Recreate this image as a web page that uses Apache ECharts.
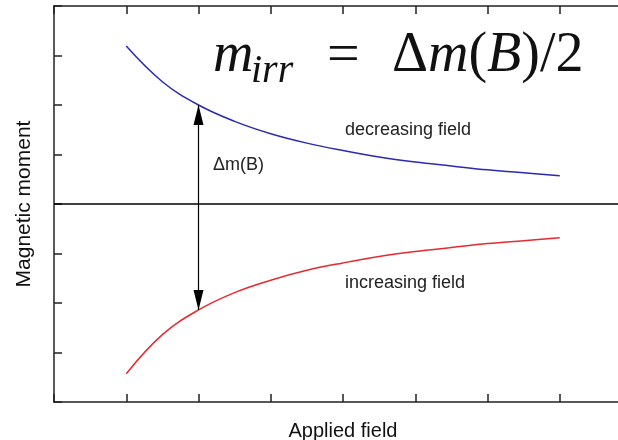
<!DOCTYPE html>
<html><head><meta charset="utf-8">
<script src="https://cdn.jsdelivr.net/npm/echarts@6/dist/echarts.min.js"></script>
<style>html,body{margin:0;padding:0;background:#fff}#c{width:618px;height:440px}</style>
</head><body><div id="c"></div>
<script>
// Applied field (arbitrary units)
const fieldValues = [1, 1.5, 2, 2.5, 3, 3.5, 4, 4.5, 5, 5.5, 6, 6.5, 7];
// Magnetic moment, decreasing-field branch (blue)
const decreasingMoment = [3.19, 2.47, 2.00, 1.67, 1.42, 1.23, 1.08, 0.95, 0.85, 0.77, 0.69, 0.63, 0.57];
// Magnetic moment, increasing-field branch (red)
const increasingMoment = [-3.43, -2.64, -2.14, -1.79, -1.54, -1.34, -1.19, -1.06, -0.96, -0.88, -0.80, -0.74, -0.68];
// Δm(B) arrow position
const arrowField = 2;
const arrowTop = 2.00;
const arrowBottom = -2.14;

const chart = echarts.init(document.getElementById('c'), null, {renderer: 'canvas'});
const axisColor = '#222';
const toPairs = (xs, ys) => xs.map((x, i) => [x, ys[i]]);
const serif = 'Liberation Serif';
// triangle whose tip sits at the symbol centre (box extended by an empty sub-path)
const arrowHead = 'path://M0,0 L10,20 L-10,20 Z M0,-20 L0.01,-20';

chart.setOption({
  animation: false,
  grid: {left: 54, top: 6, width: 578, height: 396, outerBoundsMode: 'none', containLabel: false},
  xAxis: [{
    type: 'value', min: 0, max: 8, interval: 1, position: 'bottom',
    axisLine: {show: true, onZero: false, lineStyle: {color: axisColor, width: 1.5}},
    axisTick: {show: true, inside: true, length: 8, lineStyle: {color: axisColor, width: 1.5}},
    axisLabel: {show: false}, splitLine: {show: false},
    name: 'Applied field', nameLocation: 'middle', nameGap: 19,
    nameTextStyle: {fontFamily: 'Liberation Sans', fontSize: 20, color: '#111', verticalAlign: 'top'}
  }, {
    type: 'value', min: 0, max: 8, interval: 1, position: 'top',
    axisLine: {show: true, onZero: false, lineStyle: {color: axisColor, width: 1.5}},
    axisTick: {show: true, inside: true, length: 8, lineStyle: {color: axisColor, width: 1.5}},
    axisLabel: {show: false}, splitLine: {show: false}
  }],
  yAxis: {
    type: 'value', min: -4, max: 4, interval: 1,
    axisLine: {show: true, onZero: false, lineStyle: {color: axisColor, width: 1.5}},
    axisTick: {show: true, inside: true, length: 8, lineStyle: {color: axisColor, width: 1.5}},
    axisLabel: {show: false}, splitLine: {show: false},
    name: 'Magnetic moment', nameLocation: 'middle', nameGap: 19, nameRotate: 90,
    nameTextStyle: {fontFamily: 'Liberation Sans', fontSize: 21, color: '#111'}
  },
  series: [{
    type: 'line', data: toPairs(fieldValues, decreasingMoment), smooth: 0.4,
    showSymbol: false, lineStyle: {color: '#2a2ab2', width: 1.5},
    markLine: {
      silent: true, symbol: ['none', 'none'], label: {show: false},
      lineStyle: {color: '#000', width: 1.5, type: 'solid'},
      data: [{yAxis: 0}]
    }
  }, {
    type: 'line', data: toPairs(fieldValues, increasingMoment), smooth: 0.4,
    showSymbol: false, lineStyle: {color: '#e62a2e', width: 1.5},
    markLine: {
      silent: true, symbol: [arrowHead, arrowHead], symbolSize: [10, 40],
      label: {show: false},
      lineStyle: {color: '#000', width: 1.2, type: 'solid'},
      data: [[{coord: [arrowField, arrowTop]}, {coord: [arrowField, arrowBottom]}]]
    }
  }],
  graphic: [
    {type: 'text', left: 345, top: 121, style: {text: 'decreasing field', font: '18px "Liberation Sans"', fill: '#222'}},
    {type: 'text', left: 345, top: 274, style: {text: 'increasing field', font: '18px "Liberation Sans"', fill: '#222'}},
    {type: 'text', left: 213, top: 156, style: {text: 'Δm(B)', font: '18px "Liberation Sans"', fill: '#222'}},
    {type: 'text', left: 213, top: 28, style: {text: 'm', font: 'italic 56px "Liberation Serif"', fill: '#111'}},
    {type: 'text', left: 251, top: 51, style: {text: 'irr', font: 'italic 40px "Liberation Serif"', fill: '#111'}},
    {type: 'text', left: 327, top: 28, style: {text: '=', font: '58px "Liberation Serif"', fill: '#111'}},
    {type: 'text', left: 392, top: 28, style: {
      rich: {
        i: {fontFamily: serif, fontStyle: 'italic', fontSize: 56, fill: '#111'},
        n: {fontFamily: serif, fontSize: 56, fill: '#111'}
      },
      text: '{n|Δ}{i|m}{n|(}{i|B}{n|)/2}'
    }}
  ]
});
</script></body></html>
